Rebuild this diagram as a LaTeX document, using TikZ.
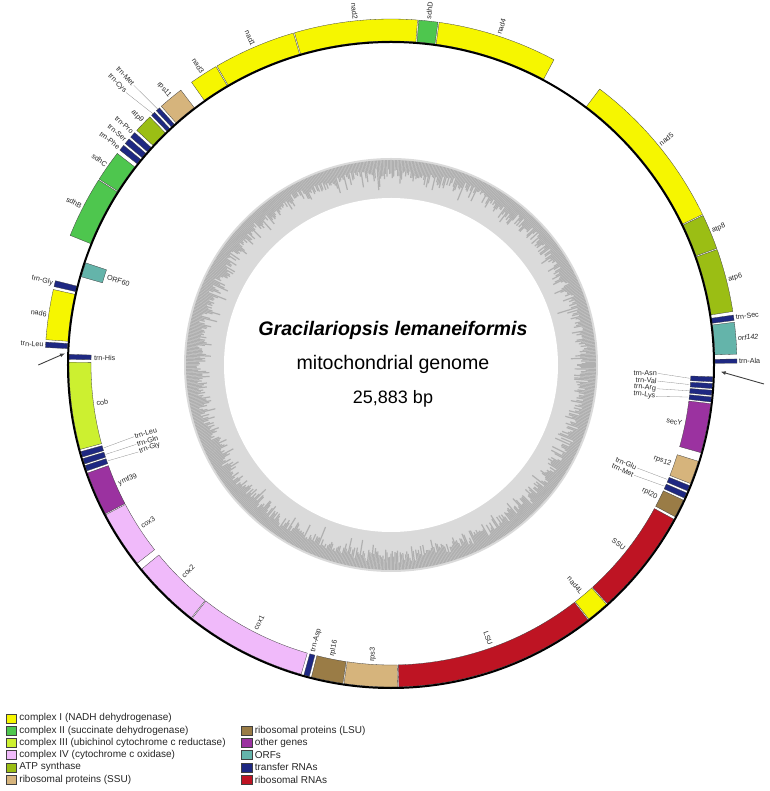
\documentclass[tikz,border=0pt]{standalone}
\usepackage{fontspec}
\setmainfont{Liberation Sans}
\usetikzlibrary{arrows.meta,positioning}
\definecolor{cI}{RGB}{246,246,0}
\definecolor{cII}{RGB}{78,198,78}
\definecolor{cIII}{RGB}{204,240,48}
\definecolor{cIV}{RGB}{240,186,250}
\definecolor{atp}{RGB}{155,190,20}
\definecolor{rpS}{RGB}{214,180,124}
\definecolor{rpL}{RGB}{154,124,70}
\definecolor{oth}{RGB}{155,50,160}
\definecolor{orf}{RGB}{100,180,170}
\definecolor{trna}{RGB}{30,40,130}
\definecolor{rrna}{RGB}{190,20,35}
\definecolor{gcdark}{RGB}{176,176,176}
\definecolor{gclight}{RGB}{218,218,218}
% gene box: from, to (degrees clockwise from top), inner radius, colour
\newcommand{\gene}[4]{%
  \filldraw[genebox, fill=#4] ({90-(#1)-0.1}:#3)
    arc[start angle={90-(#1)-0.1}, end angle={90-(#2)+0.1}, radius=#3]
    -- ({90-(#2)+0.1}:{#3+22})
    arc[start angle={90-(#2)+0.1}, end angle={90-(#1)-0.1}, radius={#3+22}] -- cycle;}
% label outside the ring
\newcommand{\outlbl}[3]{%
  \ifdim #2pt<180pt
    \node[lbl, anchor=west, rotate={90-(#2)}] (#1) at ({90-(#2)}:347) {#3};
  \else
    \node[lbl, anchor=east, rotate={270-(#2)}] (#1) at ({90-(#2)}:347) {#3};
  \fi}
% label inside the ring
\newcommand{\inlbl}[3]{%
  \ifdim #2pt<180pt
    \node[lbl, anchor=east, rotate={90-(#2)}] (#1) at ({90-(#2)}:298) {#3};
  \else
    \node[lbl, anchor=west, rotate={270-(#2)}] (#1) at ({90-(#2)}:298) {#3};
  \fi}
% label with leader line: name, angle, radius, anchor, box angle, box radius, text
\newcommand{\leadlbl}[7]{%
  \ifdim #2pt<180pt \def\lrot{90-(#2)}\else\def\lrot{270-(#2)}\fi
  \node[lbl, anchor=#4, rotate=\lrot] (#1) at ({90-(#2)}:#3) {#7};
  \coordinate (#1-end) at ({90-(#5)}:#6);
  \draw[leader] (#1.#4) -- (#1-end);}

\begin{document}
\begin{tikzpicture}[x=1pt, y=1pt,
  genebox/.style={draw=black!75, line width=0.3pt},
  lbl/.style={font=\fontsize{7.2}{8}\selectfont, text=black!85, inner sep=0.8pt},
  leader/.style={draw=black!45, line width=0.3pt},
  gcbar/.style={draw=gcdark, line width=1.2pt},
  legbox/.style={draw=black!75, line width=0.4pt, minimum width=10.5pt, minimum height=9pt, inner sep=0pt},
  legtext/.style={font=\fontsize{10}{12}\selectfont, text=black!85, inner sep=0.5pt},
  pointer/.style={-{Latex[length=5pt,width=4pt]}, draw=black!75, line width=0.9pt},
  gtitle/.style={anchor=base, inner sep=0pt}
]
\useasboundingbox (-391,-426) rectangle (378,365);

% GC ring
\fill[gclight] (0,0) circle[radius=207];
\pgfmathsetseed{11}
\foreach \a in {0,0.4,...,359.6}{
  \pgfmathsetmacro{\blen}{7+10*rnd+15*rnd*rnd}
  \draw[gcbar] (\a:205) -- (\a:{205-\blen});
}
\fill[white] (0,0) circle[radius=167];

% outer strand
\gene{-16.3}{4.5}{324}{cI}
\gene{4.5}{7.9}{324}{cII}
\gene{7.9}{28.2}{324}{cI}
\gene{37.0}{64.3}{324}{cI}
\gene{64.3}{70.4}{324}{atp}
\gene{70.4}{81.2}{324}{atp}
\gene{81.6}{82.7}{324}{trna}
\gene{82.8}{88.3}{324}{orf}
\gene{88.9}{89.8}{324}{trna}
\gene{272.8}{273.9}{324}{trna}
\gene{274.1}{282.7}{324}{cI}
\gene{283.0}{284.2}{324}{trna}
\gene{291.9}{302.4}{324}{cII}
\gene{302.4}{307.8}{324}{cII}
\gene{308.3}{309.5}{324}{trna}
\gene{309.7}{310.9}{324}{trna}
\gene{311.1}{312.3}{324}{trna}
\gene{312.6}{315.9}{324}{atp}
\gene{316.1}{317.0}{324}{trna}
\gene{317.2}{318.1}{324}{trna}
\gene{318.3}{322.7}{324}{rpS}
\gene{324.7}{329.7}{324}{cI}
\gene{329.7}{343.7}{324}{cI}

% inner strand
\gene{92.0}{93.1}{300}{trna}
\gene{93.2}{94.3}{300}{trna}
\gene{94.4}{95.5}{300}{trna}
\gene{95.6}{96.7}{300}{trna}
\gene{96.8}{105.9}{300}{oth}
\gene{107.3}{111.7}{300}{rpS}
\gene{111.9}{113.1}{300}{trna}
\gene{113.3}{114.5}{300}{trna}
\gene{114.7}{118.2}{300}{rpL}
\gene{118.5}{137.9}{300}{rrna}
\gene{137.9}{142.2}{300}{cI}
\gene{142.2}{178.7}{300}{rrna}
\gene{178.7}{188.5}{300}{rpS}
\gene{188.5}{194.4}{300}{rpL}
\gene{194.6}{195.8}{300}{trna}
\gene{196.1}{218.2}{300}{cIV}
\gene{218.2}{230.8}{300}{cIV}
\gene{231.9}{242.4}{300}{cIV}
\gene{242.4}{250.5}{300}{oth}
\gene{250.7}{251.9}{300}{trna}
\gene{252.0}{253.2}{300}{trna}
\gene{253.3}{254.5}{300}{trna}
\gene{254.7}{270.6}{300}{cIII}
\gene{270.9}{272.0}{300}{trna}
\gene{285.8}{288.6}{300}{orf}

\draw[line width=2pt] (0,0) circle[radius=323];

% outer labels
\outlbl{l-nad2}{354.1}{nad2}
\outlbl{l-sdhD}{6.2}{sdhD}
\outlbl{l-nad4}{18.05}{nad4}
\outlbl{l-nad5}{50.65}{nad5}
\outlbl{l-atp8}{67.35}{atp8}
\outlbl{l-atp6}{75.8}{atp6}
\outlbl{l-trnSec}{82.15}{trn-Sec}
\outlbl{l-orf142}{85.55}{\itshape orf142}
\outlbl{l-trnA}{89.35}{trn-Ala}
\outlbl{l-trnL1}{273.35}{trn-Leu}
\outlbl{l-nad6}{278.4}{nad6}
\outlbl{l-trnG1}{283.6}{trn-Gly}
\outlbl{l-sdhB}{297.15}{sdhB}
\outlbl{l-sdhC}{305.1}{sdhC}
\outlbl{l-trnF}{308.6}{trn-Phe}
\outlbl{l-trnS}{310.3}{trn-Ser}
\outlbl{l-trnP}{312.0}{trn-Pro}
\outlbl{l-atp9}{314.4}{atp9}
\outlbl{l-rps11}{320.5}{rps11}
\outlbl{l-nad3}{327.2}{nad3}
\outlbl{l-nad1}{336.7}{nad1}
\leadlbl{l-trnC}{315.8}{380}{east}{316.55}{346}{trn-Cys}
\leadlbl{l-trnM1}{317.4}{380}{east}{317.65}{346}{trn-Met}

% inner labels
\inlbl{l-secY}{101.35}{secY}
\inlbl{l-rps12}{109.5}{rps12}
\inlbl{l-rpl20}{116.45}{rpl20}
\inlbl{l-SSU}{128.2}{SSU}
\inlbl{l-nad4L}{140.05}{nad4L}
\inlbl{l-LSU}{160.45}{LSU}
\inlbl{l-rps3}{183.6}{rps3}
\inlbl{l-rpl16}{191.45}{rpl16}
\inlbl{l-trnD}{195.2}{trn-Asp}
\inlbl{l-cox1}{207.15}{cox1}
\inlbl{l-cox2}{224.5}{cox2}
\inlbl{l-cox3}{237.15}{cox3}
\inlbl{l-ymf39}{246.45}{ymf39}
\inlbl{l-cob}{262.65}{cob}
\inlbl{l-trnH}{271.45}{trn-His}
\inlbl{l-ORF60}{287.2}{ORF60}
\leadlbl{l-trnN}{91.8}{267}{east}{92.55}{299}{trn-Asn}
\leadlbl{l-trnV}{93.45}{267}{east}{93.75}{299}{trn-Val}
\leadlbl{l-trnR}{95.1}{267}{east}{94.95}{299}{trn-Arg}
\leadlbl{l-trnK}{96.75}{267}{east}{96.15}{299}{trn-Lys}
\leadlbl{l-trnE}{112.7}{267}{east}{112.5}{299}{trn-Glu}
\leadlbl{l-trnM2}{114.4}{267}{east}{113.9}{299}{trn-Met}
\leadlbl{l-trnL2}{254.4}{267}{west}{253.9}{299}{trn-Leu}
\leadlbl{l-trnQ}{252.7}{267}{west}{252.6}{299}{trn-Gln}
\leadlbl{l-trnG2}{251.0}{267}{west}{251.3}{299}{trn-Gly}

% start arrows
\coordinate (arrL0) at (-352.7,0);
\coordinate (arrL1) at (-326,11.7);
\coordinate (arrR0) at (373,-19);
\coordinate (arrR1) at (329.7,-6.7);
\draw[pointer] (arrL0) -- (arrL1);
\draw[pointer] (arrR0) -- (arrR1);

% centre text
\node[gtitle, font=\fontsize{19.6}{22}\selectfont\bfseries\itshape] (title) at (2,29) {Gracilariopsis lemaneiformis};
\node[gtitle, font=\fontsize{19.6}{22}\selectfont] (subtitle) at (2,-5) {mitochondrial genome};
\node[gtitle, font=\fontsize{18}{20}\selectfont] (size) at (2,-38.3) {25,883 bp};

% legend
\foreach \c/\t [count=\i from 0] in {
  cI/complex I (NADH dehydrogenase),
  cII/complex II (succinate dehydrogenase),
  cIII/complex III (ubichinol cytochrome c reductase),
  cIV/complex IV (cytochrome c oxidase),
  atp/ATP synthase,
  rpS/ribosomal proteins (SSU)}
{
  \node[legbox, fill=\c] (leg\i) at (-379.7,{-353.3-12.25*\i}) {};
  \node[legtext, right=2pt of leg\i] (legt\i) {\t};
}
\foreach \c/\t [count=\i from 1] in {
  rpL/ribosomal proteins (LSU),
  oth/other genes,
  orf/ORFs,
  trna/transfer RNAs,
  rrna/ribosomal RNAs}
{
  \node[legbox, fill=\c] (legr\i) at (-144.3,{-353.3-12.25*\i}) {};
  \node[legtext, right=2pt of legr\i] (legrt\i) {\t};
}
\end{tikzpicture}
\end{document}
